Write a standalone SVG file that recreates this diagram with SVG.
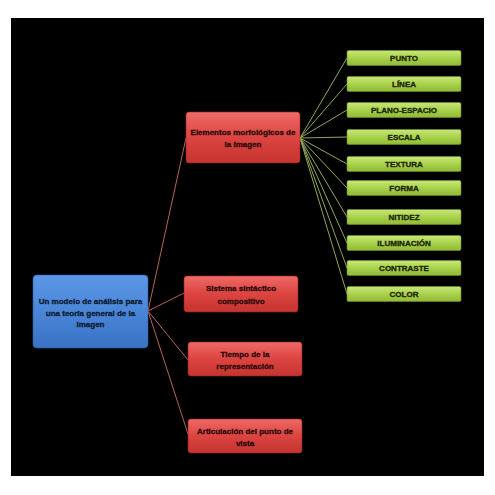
<svg xmlns="http://www.w3.org/2000/svg" width="495" height="495" viewBox="0 0 495 495">
<defs>
<linearGradient id="gRed" x1="0" y1="0" x2="0" y2="1"><stop offset="0" stop-color="#ef6a66"/><stop offset="0.5" stop-color="#dc4440"/><stop offset="1" stop-color="#c53430"/></linearGradient>
<linearGradient id="gGreen" x1="0" y1="0" x2="0" y2="1"><stop offset="0" stop-color="#c8e878"/><stop offset="0.5" stop-color="#a9d24c"/><stop offset="1" stop-color="#8fba34"/></linearGradient>
<linearGradient id="gBlue" x1="0" y1="0" x2="0" y2="1"><stop offset="0" stop-color="#5c97e6"/><stop offset="0.5" stop-color="#4a86d8"/><stop offset="1" stop-color="#3a72c4"/></linearGradient>
</defs>
<style>
text{font-family:"Liberation Sans",Arial,sans-serif;font-weight:bold;font-size:8px;text-anchor:middle;stroke-width:0.3}
.red rect{fill:url(#gRed);stroke:#8e2a28;stroke-width:0.6}
.green rect{fill:url(#gGreen);stroke:#6e8f2a;stroke-width:0.6}
.blue rect{fill:url(#gBlue);stroke:#2d5fa6;stroke-width:0.6}
.red text{fill:#2a0a0a;stroke:#2a0a0a}
.green text{fill:#1a2208;stroke:#1a2208}
.blue text{fill:#0d1a30;stroke:#0d1a30}
.rl{stroke:#b8645a;stroke-width:1;fill:none}
.gl{stroke:#8fa85a;stroke-width:1;fill:none}
</style>
<rect x="0" y="0" width="495" height="495" fill="#ffffff"/>
<rect x="11" y="18" width="473" height="458" fill="#000000"/>
<g id="connectors">
<line class="rl" x1="148" y1="311" x2="186" y2="138"/>
<line class="rl" x1="148" y1="311" x2="184" y2="293"/>
<line class="rl" x1="148" y1="311" x2="188" y2="360"/>
<line class="rl" x1="148" y1="311" x2="188" y2="434"/>
<line class="gl" x1="300" y1="138" x2="347" y2="58"/>
<line class="gl" x1="300" y1="138" x2="347" y2="84"/>
<line class="gl" x1="300" y1="138" x2="347" y2="110"/>
<line class="gl" x1="300" y1="138" x2="347" y2="137"/>
<line class="gl" x1="300" y1="138" x2="347" y2="164"/>
<line class="gl" x1="300" y1="138" x2="347" y2="188"/>
<line class="gl" x1="300" y1="138" x2="347" y2="217"/>
<line class="gl" x1="300" y1="138" x2="347" y2="243"/>
<line class="gl" x1="300" y1="138" x2="347" y2="268"/>
<line class="gl" x1="300" y1="138" x2="347" y2="294"/>
</g>
<g id="root" class="blue"><rect x="33" y="275" width="115" height="73" rx="4"/><text x="90.5" y="304">Un modelo de análisis para</text><text x="90.5" y="315.5">una teoría general de la</text><text x="90.5" y="327">Imagen</text></g>
<g id="elementos" class="red"><rect x="186" y="112" width="114" height="51" rx="3"/><text x="243" y="135">Elementos morfológicos de</text><text x="243" y="146.5">la imagen</text></g>
<g id="sistema" class="red"><rect x="184" y="276" width="114" height="36" rx="3"/><text x="241" y="291">Sistema sintáctico</text><text x="241" y="303.5">compositivo</text></g>
<g id="tiempo" class="red"><rect x="188" y="342" width="114" height="34" rx="3"/><text x="245" y="357">Tiempo de la</text><text x="245" y="369">representación</text></g>
<g id="articulacion" class="red"><rect x="188" y="419" width="114" height="34" rx="3"/><text x="245" y="434">Articulación del punto de</text><text x="245" y="446">vista</text></g>
<g id="punto" class="green"><rect x="347" y="50.5" width="114" height="15" rx="1.5"/><text x="404" y="61">PUNTO</text></g>
<g id="linea" class="green"><rect x="347" y="76.5" width="114" height="15" rx="1.5"/><text x="404" y="87">LÍNEA</text></g>
<g id="plano" class="green"><rect x="347" y="102.5" width="114" height="15" rx="1.5"/><text x="404" y="113">PLANO-ESPACIO</text></g>
<g id="escala" class="green"><rect x="347" y="129.5" width="114" height="15" rx="1.5"/><text x="404" y="140">ESCALA</text></g>
<g id="textura" class="green"><rect x="347" y="156.5" width="114" height="15" rx="1.5"/><text x="404" y="167">TEXTURA</text></g>
<g id="forma" class="green"><rect x="347" y="180.5" width="114" height="15" rx="1.5"/><text x="404" y="191">FORMA</text></g>
<g id="nitidez" class="green"><rect x="347" y="209.5" width="114" height="15" rx="1.5"/><text x="404" y="220">NITIDEZ</text></g>
<g id="iluminacion" class="green"><rect x="347" y="235.5" width="114" height="15" rx="1.5"/><text x="404" y="246">ILUMINACIÓN</text></g>
<g id="contraste" class="green"><rect x="347" y="260.5" width="114" height="15" rx="1.5"/><text x="404" y="271">CONTRASTE</text></g>
<g id="color" class="green"><rect x="347" y="286.5" width="114" height="15" rx="1.5"/><text x="404" y="297">COLOR</text></g>
</svg>
